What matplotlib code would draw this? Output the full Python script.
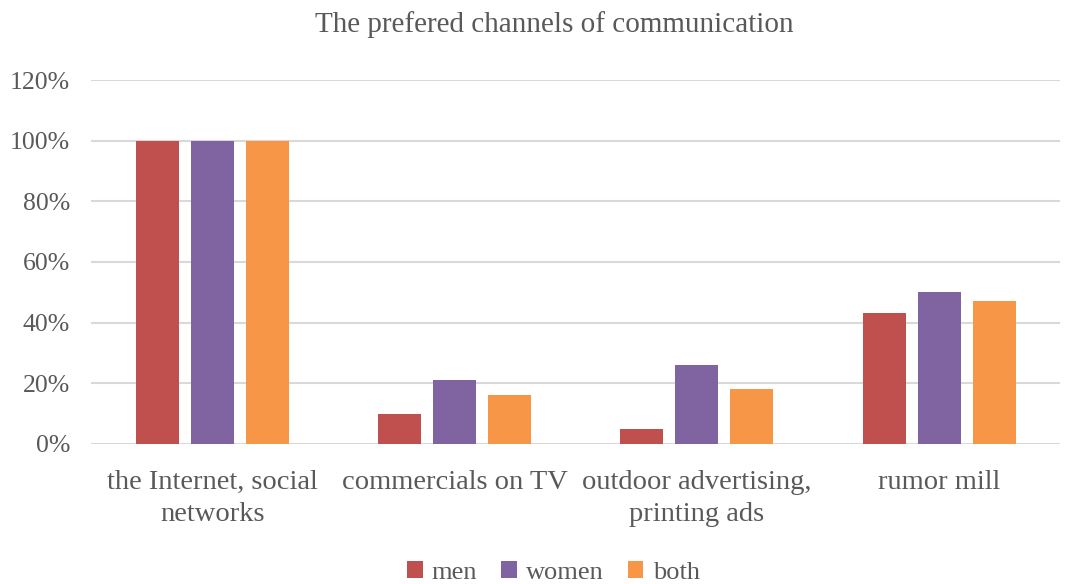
import numpy as np
import matplotlib.pyplot as plt
from matplotlib.ticker import PercentFormatter

categories = ['the Internet, social\nnetworks', 'commercials on TV',
              'outdoor advertising,\nprinting ads', 'rumor mill']
men = [1.00, 0.10, 0.05, 0.43]
women = [1.00, 0.21, 0.26, 0.50]
both = [1.00, 0.16, 0.18, 0.47]
series_names = ['men', 'women', 'both']
colors = ['#c0504d', '#8064a2', '#f79646']

plt.rcParams['font.family'] = ['Liberation Serif', 'DejaVu Serif']
text_color = '#595959'

fig = plt.figure(figsize=(10.7, 5.84), dpi=100)
ax = fig.add_axes([0.085, 0.240, 0.906, 0.623])

x = np.arange(len(categories))
width = 0.178
step = 0.227
for i, (vals, name, c) in enumerate(zip([men, women, both], series_names, colors)):
    ax.bar(x + (i - 1) * step, vals, width, color=c, label=name, zorder=3)

ax.set_xlim(-0.5, len(categories) - 0.5)
ax.set_ylim(0, 1.2)
ax.set_yticks(np.arange(0, 1.21, 0.2))
ax.yaxis.set_major_formatter(PercentFormatter(1.0, decimals=0))
ax.grid(axis='y', color='#d9d9d9', linewidth=1.5, zorder=0)
for s in ax.spines.values():
    s.set_visible(False)
ax.tick_params(axis='both', length=0, colors=text_color)
ax.tick_params(axis='y', pad=15, labelsize=18.5)
ax.tick_params(axis='x', pad=19)
ax.set_xticks(x)
ax.set_xticklabels(categories, fontsize=20.5, linespacing=1.35)

fig.text(0.518, 1 - 25 / 584, 'The prefered channels of communication',
         ha='center', va='center', fontsize=21, color=text_color)
fig.legend(loc='center', bbox_to_anchor=(0.517, 0.02), ncol=3, frameon=False,
           fontsize=19, handlelength=0.6, handleheight=0.6, handletextpad=0.35,
           columnspacing=0.9, labelcolor=text_color)

fig.savefig('out.png', dpi=100)
